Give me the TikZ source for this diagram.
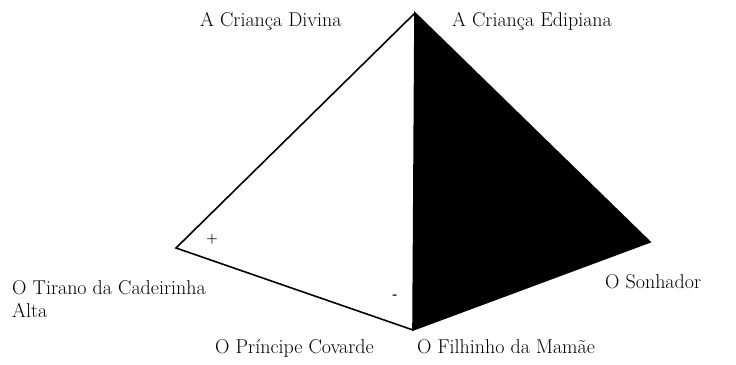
\documentclass[tikz,border=0pt]{standalone}
\usetikzlibrary{positioning}
\begin{document}
\begin{tikzpicture}[
    x=1pt, y=-1pt,
    edge/.style={line width=1.6pt, line join=miter},
    solid face/.style={fill=black, draw=black, line width=1.6pt, line join=miter},
    lbl/.style={inner sep=0pt, font=\fontsize{20}{23}\selectfont, anchor=base west},
    sign/.style={inner sep=0pt, font=\fontsize{13}{15}\selectfont\bfseries},
]
\useasboundingbox (0,0) rectangle (736,364);

% Pyramid corners
\coordinate (apex) at (415,13);
\coordinate (left) at (176,248);
\coordinate (bottom) at (413,330);
\coordinate (right) at (650,242);

% Faces
\draw[edge] (apex) -- (left) -- (bottom);
\filldraw[solid face] (apex) -- (right) -- (bottom) -- cycle;

% Signs on the white face
\node[sign] (plus) at (212,239) {+};
\node[sign] (minus) at (395,297) {-};

% Corner labels
\node[lbl] (divina) at (200,26) {A Criança Divina};
\node[lbl] (edipiana) at (452,26) {A Criança Edipiana};
\node[lbl, align=left, anchor=north west] (tirano) at (12,280) {O Tirano da Cadeirinha\\Alta};
\node[lbl] (sonhador) at (605,288) {O Sonhador};
\node[lbl] (principe) at (215,353) {O Príncipe Covarde};
\node[lbl] (filhinho) at (417,353) {O Filhinho da Mamãe};
\end{tikzpicture}
\end{document}
